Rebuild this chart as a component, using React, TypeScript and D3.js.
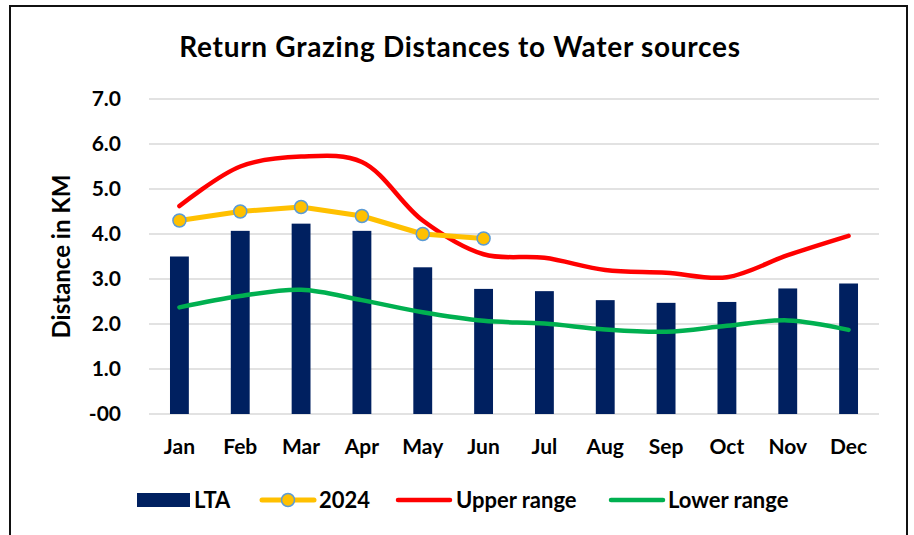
import React, { useEffect, useRef } from "react";
import * as d3 from "d3";

const months = ["Jan", "Feb", "Mar", "Apr", "May", "Jun", "Jul", "Aug", "Sep", "Oct", "Nov", "Dec"];
const lta = [3.5, 4.07, 4.23, 4.07, 3.26, 2.78, 2.73, 2.53, 2.47, 2.49, 2.79, 2.9];
const y2024 = [4.3, 4.5, 4.6, 4.4, 4.0, 3.9];
const upperRange = [4.62, 5.5, 5.72, 5.6, 4.3, 3.55, 3.47, 3.2, 3.14, 3.04, 3.53, 3.96];
const lowerRange = [2.37, 2.62, 2.76, 2.53, 2.26, 2.07, 2.01, 1.88, 1.83, 1.96, 2.08, 1.87];
const yTicks = [0, 1, 2, 3, 4, 5, 6, 7];
const yTickLabels = ["-00", "1.0", "2.0", "3.0", "4.0", "5.0", "6.0", "7.0"];

const width = 914;
const height = 535;
const margin = { top: 99, right: 35, bottom: 121, left: 149 };
const font = "Lato, 'Open Sans', sans-serif";

const App = () => {
  const ref = useRef(null);

  useEffect(() => {
    const svg = d3.select(ref.current);
    svg.selectAll("*").remove();

    // chart frame
    svg
      .append("rect")
      .attr("x", 10)
      .attr("y", 6)
      .attr("width", 897)
      .attr("height", 540)
      .attr("fill", "white")
      .attr("stroke", "#111")
      .attr("stroke-width", 2);

    const x = d3
      .scalePoint()
      .domain(months)
      .range([margin.left, width - margin.right])
      .padding(0.5);

    const y = d3
      .scaleLinear()
      .domain([0, 7])
      .range([height - margin.bottom, margin.top]);

    const barW = x.step() * 0.31;

    svg
      .append("text")
      .attr("x", 460)
      .attr("y", 57)
      .attr("text-anchor", "middle")
      .attr("font-family", font)
      .attr("font-weight", 700)
      .attr("font-size", 28)
      .attr("letter-spacing", 0.7)
      .text("Return Grazing Distances to Water sources");

    // gridlines + y labels
    const grid = svg.append("g");
    grid
      .selectAll("line")
      .data(yTicks)
      .join("line")
      .attr("x1", margin.left)
      .attr("x2", width - margin.right)
      .attr("y1", (d) => y(d))
      .attr("y2", (d) => y(d))
      .attr("stroke", "#d9d9d9")
      .attr("stroke-width", 1.5);

    grid
      .selectAll("text")
      .data(yTicks)
      .join("text")
      .attr("x", 121)
      .attr("y", (d) => y(d))
      .attr("dy", "0.35em")
      .attr("text-anchor", "end")
      .attr("font-family", font)
      .attr("font-weight", 700)
      .attr("font-size", 21)
      .text((d, i) => yTickLabels[i]);

    svg
      .append("text")
      .attr("transform", `translate(70,${y(3.5)}) rotate(-90)`)
      .attr("text-anchor", "middle")
      .attr("font-family", font)
      .attr("font-weight", 700)
      .attr("font-size", 24)
      .text("Distance in KM");

    svg
      .append("g")
      .selectAll("text")
      .data(months)
      .join("text")
      .attr("x", (d) => x(d))
      .attr("y", 447)
      .attr("dy", "0.35em")
      .attr("text-anchor", "middle")
      .attr("font-family", font)
      .attr("font-weight", 700)
      .attr("font-size", 21)
      .text((d) => d);

    // LTA bars
    svg
      .append("g")
      .selectAll("rect")
      .data(lta)
      .join("rect")
      .attr("x", (d, i) => x(months[i]) - barW / 2)
      .attr("y", (d) => y(d))
      .attr("width", barW)
      .attr("height", (d) => y(0) - y(d))
      .attr("fill", "#002060");

    const smooth = d3
      .line()
      .x((d, i) => x(months[i]))
      .y((d) => y(d))
      .curve(d3.curveCatmullRom.alpha(0.5));

    svg
      .append("path")
      .datum(lowerRange)
      .attr("fill", "none")
      .attr("stroke", "#00b050")
      .attr("stroke-width", 4.5)
      .attr("stroke-linecap", "round")
      .attr("d", smooth);

    svg
      .append("path")
      .datum(upperRange)
      .attr("fill", "none")
      .attr("stroke", "#ff0000")
      .attr("stroke-width", 4.5)
      .attr("stroke-linecap", "round")
      .attr("d", smooth);

    const straight = d3
      .line()
      .x((d, i) => x(months[i]))
      .y((d) => y(d));

    svg
      .append("path")
      .datum(y2024)
      .attr("fill", "none")
      .attr("stroke", "#ffc000")
      .attr("stroke-width", 5)
      .attr("stroke-linecap", "round")
      .attr("stroke-linejoin", "round")
      .attr("d", straight);

    svg
      .append("g")
      .selectAll("circle")
      .data(y2024)
      .join("circle")
      .attr("cx", (d, i) => x(months[i]))
      .attr("cy", (d) => y(d))
      .attr("r", 6.5)
      .attr("fill", "#ffc000")
      .attr("stroke", "#5b9bd5")
      .attr("stroke-width", 1.5);

    // legend
    const lg = svg.append("g").attr("font-family", font).attr("font-weight", 700).attr("font-size", 22);
    const ly = 500;
    lg.append("rect").attr("x", 137).attr("y", ly - 7).attr("width", 53).attr("height", 14).attr("fill", "#002060");
    lg.append("text").attr("x", 194).attr("y", ly).attr("dy", "0.35em").text("LTA");

    lg.append("line").attr("x1", 262).attr("x2", 314).attr("y1", ly).attr("y2", ly)
      .attr("stroke", "#ffc000").attr("stroke-width", 5).attr("stroke-linecap", "round");
    lg.append("circle").attr("cx", 288).attr("cy", ly).attr("r", 6.5)
      .attr("fill", "#ffc000").attr("stroke", "#5b9bd5").attr("stroke-width", 1.5);
    lg.append("text").attr("x", 319).attr("y", ly).attr("dy", "0.35em").text("2024");

    lg.append("line").attr("x1", 398).attr("x2", 450).attr("y1", ly).attr("y2", ly)
      .attr("stroke", "#ff0000").attr("stroke-width", 4.5).attr("stroke-linecap", "round");
    lg.append("text").attr("x", 456).attr("y", ly).attr("dy", "0.35em").text("Upper range");

    lg.append("line").attr("x1", 611).attr("x2", 663).attr("y1", ly).attr("y2", ly)
      .attr("stroke", "#00b050").attr("stroke-width", 4.5).attr("stroke-linecap", "round");
    lg.append("text").attr("x", 668).attr("y", ly).attr("dy", "0.35em").text("Lower range");
  }, []);

  return (
    <svg
      ref={ref}
      width={width}
      height={height}
      style={{ position: "absolute", left: 0, top: 0, display: "block" }}
    />
  );
};

export default App;
